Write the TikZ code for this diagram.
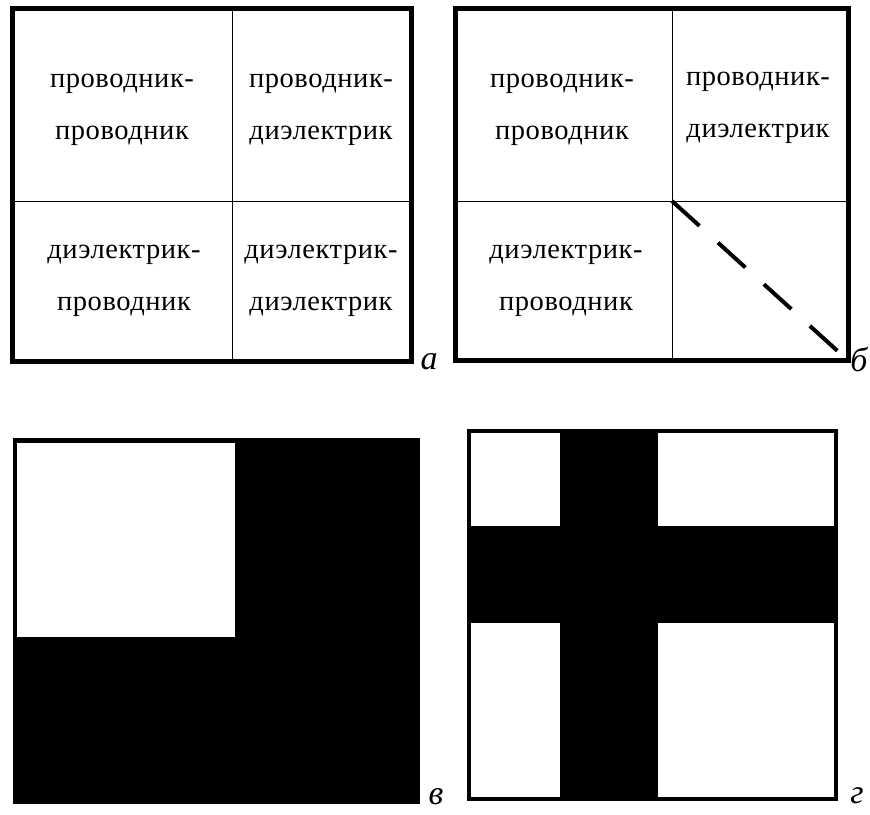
\documentclass[tikz,border=0pt]{standalone}
\usepackage{fontspec}
\setmainfont{Liberation Serif}
\newfontfamily\cellfont[LetterSpace=2]{Liberation Serif}
\usetikzlibrary{positioning}

\begin{document}
\begin{tikzpicture}[
		x=1pt, y=-1pt,
		cell/.style={align=center, inner sep=0pt, font=\cellfont\fontsize{28.5}{52}\selectfont},
		tag/.style={inner sep=0pt, font=\itshape\fontsize{34}{34}\selectfont},
		frame/.style={line width=5pt},
		grid/.style={line width=1pt},
		cut/.style={line width=4pt, dash pattern=on 37pt off 25pt},
		thinframe/.style={line width=3.5pt}
		]
		\useasboundingbox (0,0) rectangle (870,814);
		
		% Panel a: four contact pairs
		\coordinate (aNW) at (12,8);
		\coordinate (aSE) at (411,361);
		\coordinate (aC)  at (232,201);
		\draw[grid] (aC |- aNW) -- (aC |- aSE);
		\draw[grid] (aC -| aNW) -- (aC -| aSE);
		\draw[frame] (aNW) rectangle (aSE);
		\node[cell] (a11) at (122,110) {проводник-\\проводник};
		\node[cell] (a12) at (321,110) {проводник-\\диэлектрик};
		\node[cell] (a21) at (124,281) {диэлектрик-\\проводник};
		\node[cell] (a22) at (321,281) {диэлектрик-\\диэлектрик};
		\node[tag] (ta) at (429,362) {а};
		
		% Panel b: the last cell is cut off
		\coordinate (bNW) at (455,8);
		\coordinate (bSE) at (848,360);
		\coordinate (bC)  at (672,201);
		\coordinate (bEnd) at (842,355);
		\draw[grid] (bC |- bNW) -- (bC |- bSE);
		\draw[grid] (bC -| bNW) -- (bC -| bSE);
		\draw[frame] (bNW) rectangle (bSE);
		\draw[cut] (bC) -- (bEnd);
		\node[cell] (b11) at (562,110) {проводник-\\проводник};
		\node[cell] (b12) at (758,108) {проводник-\\диэлектрик};
		\node[cell] (b21) at (566,281) {диэлектрик-\\проводник};
		\node[tag] (tb) at (859,359) {б};
		
		% Panel c
		\fill (13,438) rectangle (420,804);
		\fill[white] (17,443) rectangle (235,637);
		\node[tag] (tc) at (436,797) {в};
		
		% Panel d: black cross
		\draw[thinframe] (469,431) rectangle (836,799);
		\fill (560,431) rectangle (658,799);
		\fill (469,526) rectangle (836,623);
		\node[tag] (td) at (857,796) {г};
		
\end{tikzpicture}
\end{document}
